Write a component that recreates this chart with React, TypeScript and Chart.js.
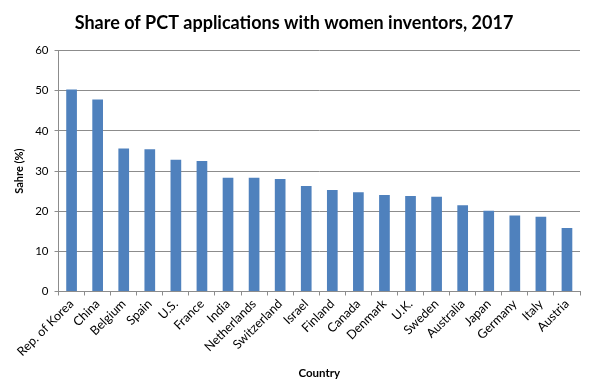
import React, { useEffect, useRef } from "react";
import { Chart, registerables } from "chart.js";

Chart.register(...registerables);

const countries = [
  "Rep. of Korea", "China", "Belgium", "Spain", "U.S.", "France", "India",
  "Netherlands", "Switzerland", "Israel", "Finland", "Canada", "Denmark",
  "U.K.", "Sweden", "Australia", "Japan", "Germany", "Italy", "Austria",
];
const shareWomen = [
  50.3, 47.8, 35.6, 35.4, 32.8, 32.5, 28.3, 28.3, 28.0, 26.3, 25.3, 24.7,
  24.0, 23.8, 23.6, 21.5, 20.1, 18.9, 18.6, 15.8,
];
const yMin = 0;
const yMax = 60;
const yStep = 10;

const GRID = "#8c8c8c";
const BAR = "#4f81bd";
const FONT = "Lato, 'Liberation Sans', sans-serif";

export default function App() {
  const ref = useRef<HTMLCanvasElement | null>(null);
  useEffect(() => {
    if (!ref.current) return;
    const chart = new Chart(ref.current, {
      type: "bar",
      data: {
        labels: countries,
        datasets: [
          {
            data: shareWomen,
            backgroundColor: BAR,
            borderWidth: 0,
            barPercentage: 0.41,
            categoryPercentage: 1,
          },
        ],
      },
      options: {
        animation: false,
        responsive: false,
        maintainAspectRatio: false,
        layout: { padding: { left: 8, right: 13, top: 4, bottom: 4 } },
        plugins: {
          legend: { display: false },
          tooltip: { enabled: false },
          title: {
            display: true,
            text: "Share of PCT applications with women inventors, 2017",
            color: "#000",
            font: { family: FONT, size: 18, weight: "bold" },
            padding: { top: 8, bottom: 17 },
          },
        },
        scales: {
          x: {
            grid: {
              display: true,
              drawOnChartArea: false,
              drawTicks: true,
              tickLength: 4,
              color: GRID,
            },
            border: { display: true, color: GRID, width: 1 },
            ticks: {
              color: "#000",
              font: { family: FONT, size: 12.5 },
              maxRotation: 45,
              minRotation: 45,
              autoSkip: false,
              padding: 1,
            },
            title: {
              display: true,
              text: "Country",
              color: "#000",
              font: { family: FONT, size: 11.5, weight: "bold" },
              padding: { top: 6, bottom: 2 },
            },
          },
          y: {
            min: yMin,
            max: yMax,
            grid: {
              color: GRID,
              drawTicks: true,
              tickLength: 4,
            },
            border: { display: true, color: GRID, width: 1 },
            ticks: {
              stepSize: yStep,
              color: "#000",
              font: { family: FONT, size: 11.5 },
              padding: 6,
            },
            title: {
              display: true,
              text: "Sahre (%)",
              color: "#000",
              font: { family: FONT, size: 11, weight: "bold" },
              padding: { top: 5, bottom: 3 },
            },
          },
        },
      },
    });
    return () => chart.destroy();
  }, []);
  return (
    <div style={{ position: "fixed", left: 0, top: 0, width: 593, height: 386, background: "#fff" }}>
      <canvas ref={ref} width={593} height={386} style={{ width: 593, height: 386 }} />
    </div>
  );
}
